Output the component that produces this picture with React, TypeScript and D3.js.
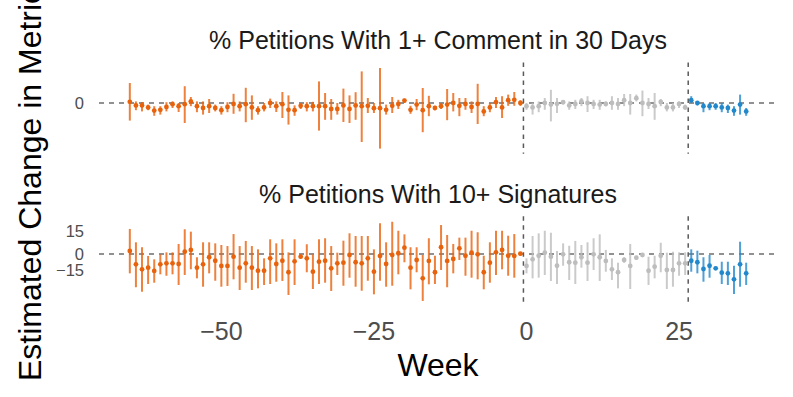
import React from "react";
import * as d3 from "d3";

// weeks relative to launch, -65 .. 36
const weeks = d3.range(-65, 37);
// period boundaries (dashed verticals): pre | transition | post
const periodCuts = [-0.5, 26.5];
const periodColors = ["#e8620c", "#bdbdbd", "#2288cc"];

const xBreaks = [-50, -25, 0, 25];
const yBreaks = [-15, 0, 15];

const panelTitles = [
  "% Petitions With 1+ Comment in 30 Days",
  "% Petitions With 10+ Signatures",
];

// % petitions with 1+ comment in 30 days
const commentEst = [
  0.3, -0.6, -0.6, -1.1, -1.9, -1.7, -1, -0.3, -0.8, -0.3, 0.4, -0.8, -1.25, -0.8, -1.25, -1.8, -1, -0.25, -0.8, -0.3,
  -1.1, -1.8, -1.1, 0, -0.8, -0.3, -1.7, -1.8,
  -0.7, -0.8, -0.8, -0.8, -0.8, -1.5, -1.5, -0.6, -1.5, -0.6, -0.8, -0.7, -1.3, -1.3, -1.7, -0.7, -0.25, 0.6, -1.7, -0.4,
  -1.8, -0.8, -1.25, -0.8, -0.4, 0, -0.7, -0.25, -1, -0.25, -2.1, -1.1, 0.2, -1.1, 0.7, 0.8, 0,
  -0.8, -1.1, -0.8, 0, -0.4, -0.2, 0.2, -0.6, -0.25, 0.4, 0, -0.25, -0.4, -0.25, 0, -0.25, 0.7, 0, 1.2, 0,
  -0.25, -0.8, 0.25, -1.1, -1.1, -0.25, -1.1,
  0.7, 0, -0.8, -0.8, -0.8, -1.1, -1.25, -1.9, -0.4, -2.1,
];
const commentLo = [
  -4.4, -1.8, -2.1, -1.8, -3.2, -2.9, -2.1, -1.25, -2.25, -5, -0.8, -2.3, -2.9, -2.5, -2.1, -2.9, -2.3, -2.7, -2.1, -4.8,
  -4.2, -2.9, -2.1, -1.25, -2.25, -3.75, -5.4, -3.2,
  -1.5, -2.1, -2.1, -6.9, -4.2, -4.2, -2.9, -4.75, -5, -4.2, -9.75, -2.5, -2.5, -11.4, -2.9, -2.5, -1.5, 0, -2.7, -1.8,
  -7.3, -3.3, -1.8, -1.5, -4.3, -2.1, -3.3, -1.7, -2.5, -5.25, -3.3, -2.3, -1.25, -3.75, -0.7, -0.7, -0.7,
  -1.7, -2.9, -2.3, -1.7, -4.6, -2.5, -0.4, -1.7, -1.5, -0.8, -2.25, -1.5, -1.7, -0.8, -1.7, -1.7, -0.8, -2.9, 0.4, -3.3,
  -1.5, -4.2, -0.8, -2.1, -2.1, -1.25, -1.7,
  0, -0.6, -2.3, -1.8, -1.7, -2.3, -2.5, -3.2, -2.9, -3.2,
];
const commentHi = [
  5, 0.4, 0.25, -0.4, -0.8, -0.8, 0.2, 0.4, 0, 4.2, 1.5, 0.4, 0.4, 1, -0.4, -0.8, 0.2, 2.3, 0.4, 3.8,
  1.9, -0.8, 0, 1.1, 0.4, 2.75, 1.9, -0.6,
  0, 0.2, 0.3, 5.4, 2.5, 1, 0, 3.6, 1.9, 2.7, 7.9, 1.25, 0, 8.75, -0.4, 1.5, 0.8, 1.1, -0.7, 1,
  3.75, 1.8, -0.7, 0, 3.5, 2.5, 1.25, 1.25, 0.4, 4.8, -0.8, 0, 1.5, 1.7, 2.1, 2.75, 0.7,
  0, 0, 0.4, 1.25, 3.3, 1.25, 0.7, 0.4, 0.8, 1.25, 1.7, 0.8, 0.8, 0.4, 1.7, 1.25, 2.25, 2.25, 2.1, 3.1,
  1.25, 2.5, 1, 0, 0, 0.4, -0.4,
  1.7, 0.4, 0, 0, 0, 0, -0.4, -0.8, 2.1, -1.25,
];

// % petitions with 10+ signatures
const sigEst = [
  2, -9.5, -14.1, -12.6, -15.6, -9.5, -8.6, -8.6, -9.2, 1.5, 2.7, -12.6, -9.5, -3, -6.2, -11, -11, -2.5, -12.6, -8.6,
  -12.6, -15.4, -15.4, -4, -9.2, -6.2, -16.8, -6.7,
  -2.5, -4, -16.3, -7.1, -6.2, -13.2, -8.6, -8, -0.9, -7.6, -8.6, -4, -16.3, -1.8, -9.2, -0.9, 0.5, 4.2, -12.6, -5.5,
  -22.4, -6.4, -16.8, 4.5, -6.4, -4.6, 3.8, -1.6, 0.9, -0.3, -16.8, -8, 1.1, 2.7, -1.6, -1.8, 0.2,
  -11, -4.9, -1.6, 0.9, -2.5, -10.8, -0.3, -7.6, -8, -3, -8, -0.3, -3, -6.4, -14.1, -16.8, -5.5, -11, -3.4, -0.9,
  -15.4, -11.7, -1.6, -14.7, -14.7, -8.6, -8.6,
  -6.2, -7.6, -13.8, -10.8, -13.2, -17.2, -17.8, -23.3, -9.5, -17.8,
];
const sigLo = [
  -17.8, -30.6, -34.7, -27.6, -26.4, -18.7, -20, -18.7, -28.5, -19.3, -14.1, -22.4, -30.1, -17.8, -24.6, -30.1, -29.4, -23.3, -33.1, -26.4,
  -33.1, -31.6, -28.5, -27.6, -25.5, -24.8, -37.7, -28.5,
  -4, -16.8, -32.2, -27.6, -26.4, -34, -19.3, -29.2, -21.8, -30.1, -33.8, -24.6, -37.1, -24.6, -30.1, -29.2, -18.7, -7.6, -32.5, -16.8,
  -43.2, -27.9, -27.6, -14.7, -30.6, -17.8, -5.5, -20, -21.8, -23.3, -32.5, -26.4, -19.3, -14.1, -20, -21.8, -1.6,
  -17.8, -22.4, -21.8, -19.3, -24.8, -27.6, -10.8, -23.9, -27.6, -12.6, -24.8, -14.7, -24.8, -16.3, -23.9, -31.6, -8, -32.2, -5.5, -2.5,
  -28.5, -22.4, -16.8, -32.2, -30.1, -20, -19.3,
  -16.3, -17.8, -25.5, -21.8, -14.7, -27.6, -28.5, -36.8, -30.1, -28.5,
];
const sigHi = [
  16.7, 7.8, 4.5, -1.8, -4.9, -0.3, 1.1, 1.1, 6.7, 16.5, 14.9, -3, 7.8, 7.8, 7.1, 6, 5.3, 13.3, 5.3, 8.7,
  5.3, 3.1, -4, 9.8, 7.1, 9.8, 1.1, 9.8,
  -0.3, 6.5, -0.3, 9.8, 10.5, 5.3, 0.9, 8.9, 13.8, 12, 12, 12, 3.1, 20.5, 7.8, 21.5, 15.5, 13.1, 4.5, 4.5,
  -0.9, 10.5, -1.6, 19.3, 12.7, 6.7, 10.9, 10.9, 15.5, 14.5, -1.6, 7.8, 15.5, 15.5, 12.2, 13.3, 1.1,
  -4, 12, 13.8, 15.5, 14.2, 2, 7.1, 5.5, 8.7, 6, 7.8, 10.5, 13.1, 2.7, -4, -8, -3, 6.7, -1.6, 0.5,
  -2.5, -1.6, 7.5, 0.9, 1.5, 1.1, 1.1,
  3.1, 2.2, -3, -0.9, -11.7, -7.1, -7.1, -10.8, 8.2, -8,
];

const W = 793;
const H = 397;
const FONT = "'Liberation Sans', Arial, Helvetica, sans-serif";
const plotLeft = 99;
const plotRight = 777;
// zero position and px per unit (above / below zero) for each facet
const facetLayout = [
  { zeroY: 103, up: 4, down: 4 },
  { zeroY: 254, up: 1.5, down: 1.087 },
];

function periodOf(w: number) {
  return w < periodCuts[0] ? 0 : w < periodCuts[1] ? 1 : 2;
}

export default function App() {
  const [w0, w1] = d3.extent(weeks) as [number, number];
  const pad = (w1 - w0) * 0.05;
  const x = d3.scaleLinear().domain([w0 - pad, w1 + pad]).range([plotLeft, plotRight]);
  const fmt = d3.format("d");

  const facets = [
    { title: panelTitles[0], est: commentEst, lo: commentLo, hi: commentHi },
    { title: panelTitles[1], est: sigEst, lo: sigLo, hi: sigHi },
  ].map((f, i) => {
    const L = facetLayout[i];
    const y = d3
      .scaleLinear()
      .domain([-15, 0, 15])
      .range([L.zeroY + 15 * L.down, L.zeroY, L.zeroY - 15 * L.up]);
    const top0 = y(d3.max(f.hi) as number);
    const bot0 = y(d3.min(f.lo) as number);
    const ex = (bot0 - top0) * 0.05;
    return { ...f, y, top: top0 - ex, bottom: bot0 + ex };
  });

  const last = facets[facets.length - 1];

  return (
    <svg width={W} height={H} style={{ position: "absolute", left: 0, top: 0, background: "#fff" }} fontFamily={FONT}>
      {facets.map((f, fi) => (
        <g key={fi}>
          <text x={(plotLeft + plotRight) / 2} y={f.top - 14.5} textAnchor="middle" fontSize={25} fill="#1a1a1a">
            {f.title}
          </text>
          {yBreaks
            .filter((b) => f.y(b) >= f.top && f.y(b) <= f.bottom)
            .map((b) => (
              <text key={b} x={84} y={f.y(b)} dy="0.36em" textAnchor="end" fontSize={16.5} fill="#4d4d4d">
                {fmt(b)}
              </text>
            ))}
          <line x1={plotLeft} x2={plotRight} y1={f.y(0)} y2={f.y(0)} stroke="#6e6e6e" strokeWidth={1.4} strokeDasharray="5,5" />
          {periodCuts.map((c) => (
            <line key={c} x1={x(c)} x2={x(c)} y1={f.top - 1.5} y2={f.bottom + 1} stroke="#5a5a5a" strokeWidth={1.5} strokeDasharray="4.5,4.5" />
          ))}
          {weeks.map((w, i) => {
            const col = periodColors[periodOf(w)];
            return (
              <g key={w}>
                <line x1={x(w)} x2={x(w)} y1={f.y(f.lo[i])} y2={f.y(f.hi[i])} stroke={col} strokeWidth={2} strokeOpacity={0.8} />
                <circle cx={x(w)} cy={f.y(f.est[i])} r={2.4} fill={col} />
              </g>
            );
          })}
        </g>
      ))}
      {xBreaks.map((b) => (
        <text key={b} x={x(b)} y={last.bottom + 35} textAnchor="middle" fontSize={25} fill="#4d4d4d">
          {fmt(b)}
        </text>
      ))}
      <text x={(plotLeft + plotRight) / 2} y={376} textAnchor="middle" fontSize={32} fill="#000">
        Week
      </text>
      <text transform={`translate(41, ${(facets[0].top + last.bottom) / 2}) rotate(-90)`} textAnchor="middle" fontSize={32} fill="#000">
        Estimated Change in Metric
      </text>
    </svg>
  );
}
